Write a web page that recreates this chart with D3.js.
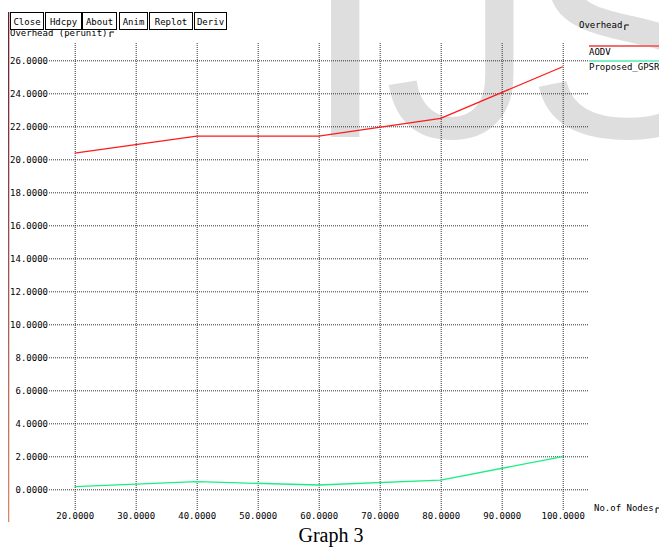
<!DOCTYPE html>
<html>
<head>
<meta charset="utf-8">
<script src="https://cdn.jsdelivr.net/npm/d3@7"></script>
<style>
  html, body { margin: 0; padding: 0; background: #fff; }
  svg { display: block; }
  text { font-family: "DejaVu Sans Mono", monospace; font-size: 9px; fill: #000; }
  text.wm { font-family: "Liberation Sans", Arial, sans-serif; font-size: 304px; fill: #dedede; }
</style>
</head>
<body>
<svg id="chart" width="659" height="547"></svg>
<script>
// Number of nodes simulated
const nodes = [20, 40, 60, 80, 100];
// Routing overhead (per unit) for each protocol
const aodv = [20.38, 21.41, 21.41, 22.48, 25.61];
const gpsr = [0.16, 0.46, 0.26, 0.56, 1.98];
const seriesNames = ["AODV", "Proposed_GPSR"];
const seriesColors = ["#ff1a1a", "#1aef82"];
const legendColors = ["#f07070", "#7af0c4"];
// Axis ticks
const xTicks = [20, 30, 40, 50, 60, 70, 80, 90, 100];
const yTicks = d3.range(0, 27, 2);
const buttons = ["Close", "Hdcpy", "About", "Anim", "Replot", "Deriv"];

const svg = d3.select("#chart");

const x = d3.scaleLinear().domain([20, 100]).range([74.7, 562.7]);
const y = d3.scaleLinear().domain([0, 26]).range([489.3, 60.3]);

// Background watermark letters
const wm = svg.append("g");
wm.append("text").attr("class", "wm").attr("x", 303).attr("y", 137).text("I");
wm.append("text").attr("class", "wm").attr("x", 384).attr("y", 137).text("J");
wm.append("text").attr("class", "wm").attr("x", 525).attr("y", 137).text("S");

// Left frame edge with colour fade
const defs = svg.append("defs");
const grad = defs.append("linearGradient").attr("id", "edge")
  .attr("x1", 0).attr("y1", 0).attr("x2", 0).attr("y2", 1);
grad.append("stop").attr("offset", 0).attr("stop-color", "#6a1838");
grad.append("stop").attr("offset", 1).attr("stop-color", "#d8886a");
svg.append("rect").attr("x", 8).attr("y", 12).attr("width", 1.3).attr("height", 510)
  .attr("fill", "url(#edge)");

// Grid lines via axes
const xAxis = d3.axisBottom(x).tickValues(xTicks)
  .tickSize(-(510 - 43)).tickPadding(3).tickFormat(d => d3.format(".4f")(d));
const gx = svg.append("g").attr("transform", "translate(0,510)").call(xAxis);
gx.select(".domain").remove();
gx.selectAll(".tick line").attr("stroke", "#333").attr("stroke-dasharray", "1,1");
gx.selectAll(".tick text").attr("y", 3).attr("dy", "0.71em")
  .style("font-family", "DejaVu Sans Mono, monospace").style("font-size", "9px");

const yAxis = d3.axisLeft(y).tickValues(yTicks)
  .tickSize(-(588 - 49)).tickPadding(1).tickFormat(d => d3.format(".4f")(d));
const gy = svg.append("g").attr("transform", "translate(49,0)").call(yAxis);
gy.select(".domain").remove();
gy.selectAll(".tick line").attr("stroke", "#333").attr("stroke-dasharray", "1,1");
gy.selectAll(".tick text")
  .style("font-family", "DejaVu Sans Mono, monospace").style("font-size", "9px");

// Data lines
const line = d3.line().x(d => x(d[0])).y(d => y(d[1]));
[aodv, gpsr].forEach((vals, i) => {
  svg.append("path")
    .datum(nodes.map((n, j) => [n, vals[j]]))
    .attr("fill", "none")
    .attr("stroke", seriesColors[i])
    .attr("stroke-width", 1.3)
    .attr("d", line);
});

// Small corner marks after axis titles
function corner(xp, yp) {
  svg.append("path")
    .attr("d", `M${xp},${yp} V${yp - 5} H${xp + 4}`)
    .attr("fill", "none").attr("stroke", "#000").attr("stroke-width", 1);
}

// Axis titles
const yTitle = svg.append("text").attr("x", 10).attr("y", 36).text("Overhead (perunit)");
corner(10 + yTitle.node().getComputedTextLength() + 2.5, 37);
const xTitle = svg.append("text").attr("x", 594).attr("y", 511).text("No.of Nodes");
corner(594 + xTitle.node().getComputedTextLength() + 2.5, 513);

// Legend
const lt = svg.append("text").attr("x", 579).attr("y", 28).text("Overhead");
corner(579 + lt.node().getComputedTextLength() + 2.5, 30);
seriesNames.forEach((name, i) => {
  const ly = 46 + i * 15;
  svg.append("line").attr("x1", 589).attr("x2", 659).attr("y1", ly).attr("y2", ly)
    .attr("stroke", legendColors[i]).attr("stroke-width", 2);
  svg.append("text").attr("x", 589).attr("y", ly + 9).text(name);
});

// Control buttons
const bx = [10, 45, 82, 119, 149, 194];
const bw = [33, 36, 34, 28, 43, 32];
buttons.forEach((b, i) => {
  svg.append("rect").attr("x", bx[i] + 0.5).attr("y", 12.5).attr("width", bw[i]).attr("height", 17)
    .attr("fill", "#fff").attr("stroke", "#000");
  svg.append("text").attr("x", bx[i] + 0.5 + bw[i] / 2).attr("y", 24.5)
    .attr("text-anchor", "middle").text(b);
});

// Caption
svg.append("text").attr("x", 331).attr("y", 541.5).attr("text-anchor", "middle")
  .style("font-family", "Liberation Serif, Times New Roman, serif").style("font-size", "20px")
  .text("Graph 3");
</script>
</body>
</html>
